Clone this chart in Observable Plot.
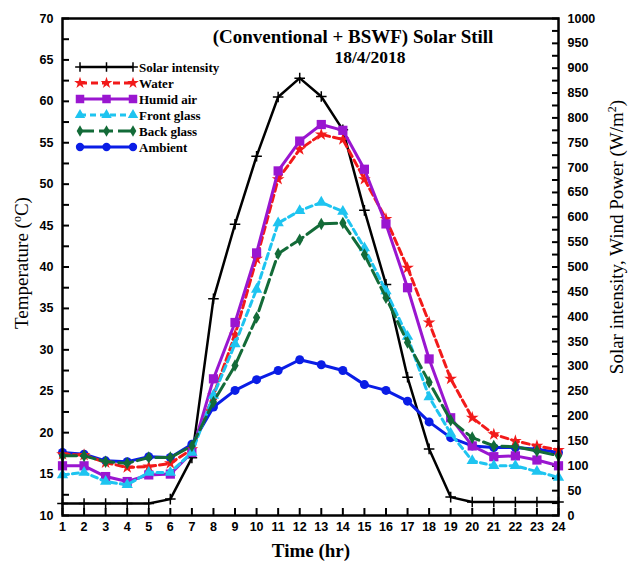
<!DOCTYPE html>
<html><head><meta charset="utf-8">
<script src="https://cdn.jsdelivr.net/npm/d3@7"></script>
<script src="https://cdn.jsdelivr.net/npm/@observablehq/plot@0.6"></script>
<style>body{margin:0;background:#fff}#chart{width:639px;height:565px}</style>
</head><body><div id="chart"></div>
<script>
// ---- data ----
const hours = [1,2,3,4,5,6,7,8,9,10,11,12,13,14,15,16,17,18,19,20,21,22,23,24];
const solarIntensity = [24,24,24,24,24,33,116,436,586,723,842,880,843,776,614,465,278,134,37,27,27,27,27,27];
const water     = [17.4,17.3,16.4,15.8,15.9,16.3,18.0,24.5,31.8,41.0,50.6,54.2,56.0,55.4,50.6,45.8,39.9,33.3,26.5,21.8,19.8,19.0,18.4,17.9];
const humidAir  = [16.0,16.0,14.7,14.1,14.9,15.0,17.6,26.5,33.3,41.7,51.6,55.2,57.2,56.5,51.8,45.2,37.5,28.9,21.8,18.4,17.1,17.2,16.7,16.0];
const frontGlass= [14.9,15.2,14.1,13.7,15.2,15.2,17.6,24.5,30.7,37.3,45.3,46.8,47.8,46.7,42.3,37.1,31.6,24.3,19.9,16.6,16.0,16.0,15.3,14.6];
const backGlass = [17.2,17.2,16.5,16.3,17.0,17.0,18.4,23.7,28.1,33.9,41.6,43.3,45.2,45.3,41.5,36.3,30.9,26.1,21.5,19.4,18.4,18.3,17.8,17.2];
const ambient   = [17.6,17.4,16.6,16.5,17.1,17.0,18.6,23.1,25.1,26.4,27.5,28.8,28.2,27.5,25.8,25.1,23.8,21.3,19.4,18.4,18.2,18.2,18.0,17.6];
const tempTicks = [10,15,20,25,30,35,40,45,50,55,60,65,70];
const tempMinor = [12.5,17.5,22.5,27.5,32.5,37.5,42.5,47.5,52.5,57.5,62.5,67.5];
const solarTicks = [0,50,100,150,200,250,300,350,400,450,500,550,600,650,700,750,800,850,900,950,1000];
const solarMinor = [25,75,125,175,225,275,325,375,425,475,525,575,625,675,725,775,825,875,925,975];
const seriesNames = ["Solar intensity","Water","Humid air","Front glass","Back glass","Ambient"];
const title1 = "(Conventional + BSWF) Solar Still";
const title2 = "18/4/2018";

// ---- helpers ----
const T0 = 10, T1 = 70, S1 = 1000;
const s2t = s => T0 + s * (T1 - T0) / S1;
const t2s = t => (t - T0) * S1 / (T1 - T0);
const rows = vals => hours.map((h, i) => ({h, v: vals[i]}));

const styles = [
  {vals: solarIntensity.map(s2t), color: "#000000", dash: null, symbol: "plus", r: 3.5, width: 2.5},
  {vals: water, color: "#f21a1a", dash: "7,4", symbol: "star", r: 4, width: 3},
  {vals: humidAir, color: "#9a16d0", dash: null, symbol: "square", r: 5.2, width: 3},
  {vals: frontGlass, color: "#1ec4f0", dash: "6,4", symbol: "triangle", r: 4.2, width: 3},
  {vals: backGlass, color: "#136b38", dash: "14,5", symbol: "diamond", r: 3.8, width: 3},
  {vals: ambient, color: "#0a1de6", dash: null, symbol: "circle", r: 4.5, width: 3}
];
const drawOrder = [0, 5, 1, 2, 3, 4];

const marks = [];
for (const k of drawOrder) {
  const st = styles[k];
  marks.push(Plot.line(rows(st.vals), {x: "h", y: "v", stroke: st.color, strokeWidth: st.width, strokeDasharray: st.dash}));
  if (st.symbol === "plus") {
    marks.push(Plot.dot(rows(st.vals), {x: "h", y: "v", symbol: "plus", stroke: st.color, fill: "none", strokeWidth: 1.5, r: st.r}));
  } else {
    marks.push(Plot.dot(rows(st.vals), {x: "h", y: "v", symbol: st.symbol, fill: st.color, stroke: "none", r: st.r}));
  }
}

const blank = () => "";
const plot = Plot.plot({
  width: 639, height: 565,
  marginLeft: 62, marginRight: 81, marginTop: 18, marginBottom: 50,
  style: {fontFamily: "'Liberation Sans', Arial, sans-serif", fontSize: "12.5px", fontWeight: "bold", background: "#fff", overflow: "visible"},
  x: {domain: [1, 24]},
  y: {domain: [T0, T1]},
  marks: [
    Plot.axisX(hours, {anchor: "bottom", tickSize: -7, tickPadding: 14, strokeWidth: 2, label: null, tickFormat: d => String(d)}),
    Plot.axisY(tempTicks, {anchor: "left", tickSize: -7, tickPadding: 16, strokeWidth: 2, label: null, tickFormat: d => String(d)}),
    Plot.axisY(tempMinor, {anchor: "left", tickSize: -7, strokeWidth: 2, label: null, tickFormat: blank}),
    Plot.axisY(solarTicks.map(s2t), {anchor: "right", tickSize: -7, tickPadding: 16, strokeWidth: 2, label: null, tickFormat: t => String(Math.round(t2s(t)))}),
    Plot.axisY(solarMinor.map(s2t), {anchor: "right", tickSize: -7, strokeWidth: 2, label: null, tickFormat: blank}),
    ...marks,
    Plot.frame({stroke: "black", strokeWidth: 2.5})
  ]
});

document.getElementById("chart").appendChild(plot);

// ---- annotations: titles, axis labels, legend ----
const svg = d3.select(plot);
const serif = "'Liberation Serif', 'Times New Roman', serif";
svg.append("text").attr("x", 353).attr("y", 43).attr("text-anchor", "middle")
  .attr("font-family", serif).attr("font-size", 19).attr("font-weight", "bold").text(title1);
svg.append("text").attr("x", 370).attr("y", 63).attr("text-anchor", "middle")
  .attr("font-family", serif).attr("font-size", 17.5).attr("font-weight", "bold").text(title2);

svg.append("text").attr("x", 311).attr("y", 557).attr("text-anchor", "middle")
  .attr("font-family", serif).attr("font-size", 19).attr("font-weight", "bold").text("Time (hr)");

const yl = svg.append("text").attr("transform", "translate(28,263) rotate(-90)").attr("text-anchor", "middle")
  .attr("font-family", serif).attr("font-size", 19).attr("font-weight", "normal");
yl.append("tspan").text("Temperature (");
yl.append("tspan").attr("font-size", 12).attr("dy", -7).text("o");
yl.append("tspan").attr("dy", 7).text("C)");

const yr = svg.append("text").attr("transform", "translate(623,237) rotate(-90)").attr("text-anchor", "middle")
  .attr("font-family", serif).attr("font-size", 19).attr("font-weight", "normal");
yr.append("tspan").text("Solar intensity, Wind Power (W/m");
yr.append("tspan").attr("font-size", 12).attr("dy", -7).text("2");
yr.append("tspan").attr("dy", 7).text(")");

const symMap = {plus: d3.symbolPlus, star: d3.symbolStar, square: d3.symbolSquare, triangle: d3.symbolTriangle, diamond: d3.symbolDiamond, circle: d3.symbolCircle};
const lg = svg.append("g");
seriesNames.forEach((name, i) => {
  const st = styles[i];
  const y = 67 + i * 16;
  lg.append("line").attr("x1", 80).attr("x2", 133).attr("y1", y).attr("y2", y)
    .attr("stroke", st.color).attr("stroke-width", st.width).attr("stroke-dasharray", st.dash);
  [80, 106.5, 133].forEach(px => {
    const p = lg.append("path").attr("transform", `translate(${px},${y})`)
      .attr("d", d3.symbol(symMap[st.symbol], Math.PI * st.r * st.r * 0.85)());
    if (st.symbol === "plus") p.attr("fill", "none").attr("stroke", st.color).attr("stroke-width", 1.5);
    else p.attr("fill", st.color);
  });
  lg.append("text").attr("x", 139).attr("y", y + 4.5).attr("text-anchor", "start").attr("font-family", serif)
    .attr("font-size", 13).attr("font-weight", "bold").text(name);
});
</script>
</body></html>
